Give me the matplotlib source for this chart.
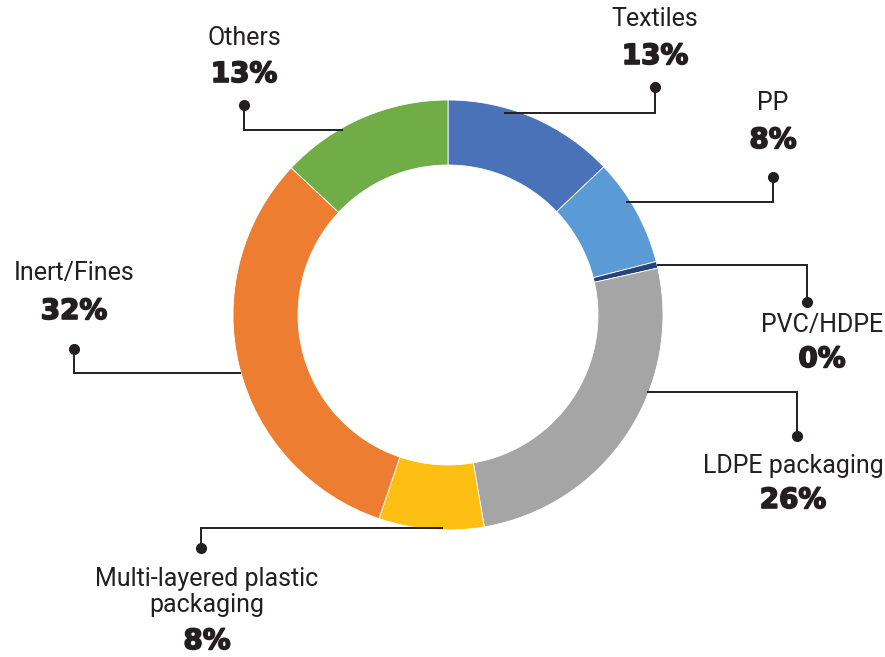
import matplotlib
matplotlib.use("Agg")
import matplotlib.pyplot as plt
import matplotlib.patheffects as pe

# waste composition, clockwise from 12 o'clock
categories = ["Textiles", "PP", "PVC/HDPE", "LDPE packaging",
              "Multi-layered plastic\npackaging", "Inert/Fines", "Others"]
shares = [12.9, 8.1, 0.5, 25.8, 7.9, 31.8, 13.0]
colors = ["#4A72B8", "#5B9BD5", "#264478", "#A5A5A5", "#FDBF13", "#ED7D31", "#70AD47"]

W, H = 885, 657
INK = "#231F20"


def Y(y):
    # image rows run downward, axes y runs upward
    return H - y


fig = plt.figure(figsize=(W / 100, H / 100), dpi=100)
ax = fig.add_axes([0, 0, 1, 1])

ax.pie(shares, colors=colors, startangle=90, counterclock=False,
       radius=215, center=(448, Y(315)),
       wedgeprops=dict(width=65, edgecolor="white", linewidth=0.6))

# leader lines: list of (x, y) points, last point gets the dot
leaders = [
    [(505, 113), (655, 113), (655, 87)],
    [(627, 202), (773, 202), (773, 177)],
    [(658, 265), (807, 265), (807, 302)],
    [(648, 392), (797, 392), (797, 436)],
    [(442, 528), (201, 528), (201, 548)],
    [(240, 373), (74, 373), (74, 349)],
    [(342, 130), (244, 130), (244, 105)],
]
# label anchor: (x, y of name, y of percent)
label_pos = [
    (655, 19, 56),
    (773, 103, 140),
    (822, 325, 359),
    (793, 466, 500),
    (207, 592, 641),
    (74, 273, 311),
    (244, 38, 74),
]

heavy = [pe.withStroke(linewidth=1.2, foreground=INK)]

for cat, val, path, (lx, ly, py) in zip(categories, shares, leaders, label_pos):
    xs = [p[0] for p in path]
    ys = [Y(p[1]) for p in path]
    ax.plot(xs, ys, color=INK, lw=1.4, solid_joinstyle="miter", zorder=3)
    ax.plot(xs[-1], ys[-1], "o", color=INK, ms=7, zorder=4)
    ax.text(lx, Y(ly), cat, ha="center", va="center", fontsize=18,
            family=["Roboto", "DejaVu Sans"], fontstretch="condensed",
            color=INK, linespacing=1.15)
    ax.text(lx, Y(py), "%d%%" % round(val), ha="center", va="center",
            fontsize=20, fontweight="bold", family="DejaVu Sans", color=INK,
            path_effects=heavy)

ax.set_xlim(0, W)
ax.set_ylim(0, H)
ax.set_aspect("equal")
ax.axis("off")

fig.savefig("out.png", dpi=100, facecolor="white")
